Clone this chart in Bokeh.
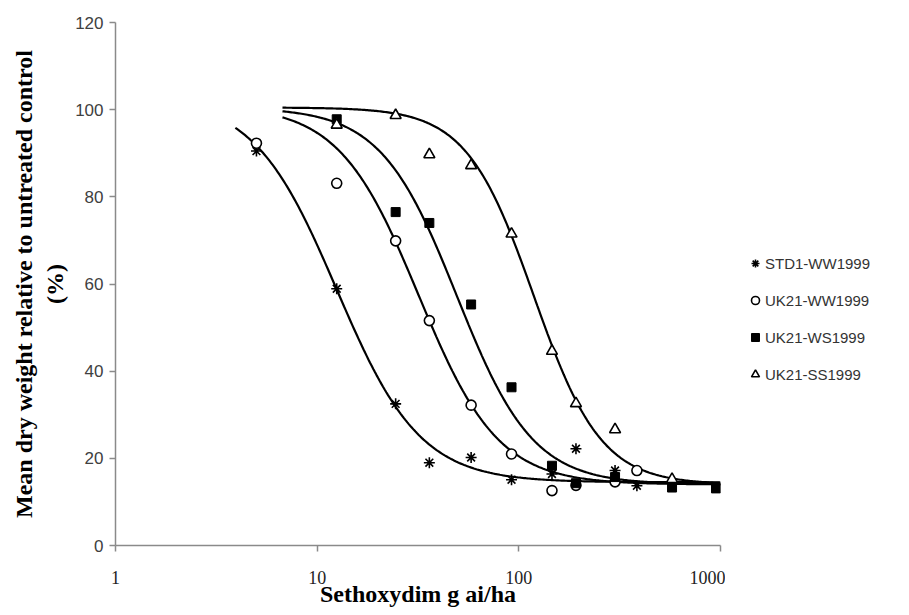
import numpy as np
from bokeh.plotting import figure
from bokeh.layouts import row
from bokeh.models import Legend, LegendItem, FixedTicker, Range1d, BasicTickFormatter
from bokeh.embed import file_html
from bokeh.resources import INLINE

series_names = ["STD1-WW1999", "UK21-WW1999", "UK21-WS1999", "UK21-SS1999"]

std1_dose = [5, 12.5, 24.5, 36, 58, 92, 146, 192, 300, 385]
std1_resp = [90.5, 58.9, 32.5, 19.0, 20.2, 15.1, 16.4, 22.2, 17.2, 13.7]
ww_dose = [5, 12.5, 24.5, 36, 58, 92, 146, 192, 300, 385]
ww_resp = [92.3, 83.1, 69.9, 51.6, 32.2, 21.0, 12.6, 13.8, 14.6, 17.2]
ws_dose = [12.5, 24.5, 36, 58, 92, 146, 192, 300, 575, 950]
ws_resp = [97.8, 76.5, 74.0, 55.3, 36.3, 18.3, 14.3, 15.7, 13.3, 13.1]
ss_dose = [12.5, 24.5, 36, 58, 92, 146, 192, 300, 575]
ss_resp = [96.5, 98.7, 89.7, 87.2, 71.5, 44.6, 32.6, 26.6, 15.2]

# fitted log-logistic dose-response parameters
fit_lower = [14.5, 14.0, 14.0, 14.0]
fit_upper = [103.0, 101.0, 100.5, 100.5]
fit_ed50 = [12.5, 31.8, 49.3, 118.7]
fit_slope = [2.1, 2.2, 2.3, 2.6]
fit_start = [3.93, 6.73, 6.73, 6.73]
fit_end = [1000, 1000, 1000, 1000]

x_ticks = [1, 10, 100, 1000]
y_ticks = [0, 20, 40, 60, 80, 100, 120]

AXIS_COLOR = "#8a8a8a"
H = 612
W_MAIN = 725
W_LEG = 180

STYLES = [
    dict(marker="asterisk", size=11, line_color="black", line_width=1.6),
    dict(marker="circle", size=10, line_color="black", fill_color="white", line_width=1.6),
    dict(marker="square", size=9, line_color="black", fill_color="black", line_width=1),
    dict(marker="triangle", size=11, line_color="black", fill_color="white", line_width=1.6),
]

p = figure(width=W_MAIN, height=H, x_axis_type="log",
           x_range=Range1d(1, 1000), y_range=Range1d(0, 120),
           output_backend="svg", toolbar_location=None,
           min_border_left=115, min_border_right=5,
           min_border_top=22, min_border_bottom=H - 545)
p.outline_line_color = None
p.grid.visible = False

# fitted curves
for lo, up, e, b, s, t in zip(fit_lower, fit_upper, fit_ed50, fit_slope, fit_start, fit_end):
    xs = np.logspace(np.log10(s), np.log10(t), 300)
    ys = lo + (up - lo) / (1.0 + (xs / e) ** b)
    p.line(xs, ys, line_color="black", line_width=2.2)

for dose, resp, st in zip([std1_dose, ww_dose, ws_dose, ss_dose],
                          [std1_resp, ww_resp, ws_resp, ss_resp], STYLES):
    p.scatter(dose, resp, **st)

# axes
for ax in (p.xaxis[0], p.yaxis[0]):
    ax.axis_line_color = AXIS_COLOR
    ax.axis_line_width = 1.5
    ax.major_tick_line_color = AXIS_COLOR
    ax.major_tick_line_width = 1.5
    ax.major_tick_in = 0
    ax.major_tick_out = 6
    ax.minor_tick_line_color = None

p.xaxis.ticker = FixedTicker(ticks=x_ticks)
p.xaxis.formatter = BasicTickFormatter()
p.xaxis.major_label_text_font = "Liberation Serif"
p.xaxis.major_label_text_font_size = "18px"
p.xaxis.major_label_text_color = "#222222"
p.xaxis.major_label_standoff = 19
p.xaxis.axis_label = "Sethoxydim g ai/ha"
p.xaxis.axis_label_text_font = "Liberation Serif"
p.xaxis.axis_label_text_font_style = "bold"
p.xaxis.axis_label_text_font_size = "24px"
p.xaxis.axis_label_text_color = "black"
p.xaxis.axis_label_standoff = -6

p.yaxis.ticker = FixedTicker(ticks=y_ticks)
p.yaxis.major_label_text_font = "Liberation Sans"
p.yaxis.major_label_text_font_size = "17px"
p.yaxis.major_label_text_color = "#404040"
p.yaxis.major_label_standoff = 6

p.yaxis.axis_label = "Mean dry weight relative to untreated control\n(%)"
p.yaxis.axis_label_text_font = "Liberation Serif"
p.yaxis.axis_label_text_font_style = "bold"
p.yaxis.axis_label_text_font_size = "24px"
p.yaxis.axis_label_text_color = "black"
p.yaxis.axis_label_standoff = 4
p.yaxis.axis_label_text_line_height = 1.2

# legend panel (separate figure to the right of the plot area);
# its swatch renderers hold one hidden point outside the panel's range
lf = figure(width=W_LEG, height=H, x_range=Range1d(0, 1), y_range=Range1d(0, 1),
            output_backend="svg", toolbar_location=None,
            x_axis_location=None, y_axis_location=None,
            min_border_left=0, min_border_right=0, min_border_top=0, min_border_bottom=0)
lf.outline_line_color = None
lf.grid.visible = False
leg_renderers = [lf.scatter(x=[-5], y=[-5], **st) for st in STYLES]

legend = Legend(items=[LegendItem(label=n, renderers=[r])
                       for n, r in zip(series_names, leg_renderers)],
                location=(20, 160), margin=0, padding=0, spacing=15,
                glyph_height=22, glyph_width=20, label_height=22, label_standoff=0,
                border_line_color=None, background_fill_alpha=0,
                label_text_font="Liberation Sans", label_text_font_size="15px",
                label_text_color="#333333")
lf.add_layout(legend)

layout = row(p, lf)
open("out.html", "w").write(file_html(layout, INLINE))
